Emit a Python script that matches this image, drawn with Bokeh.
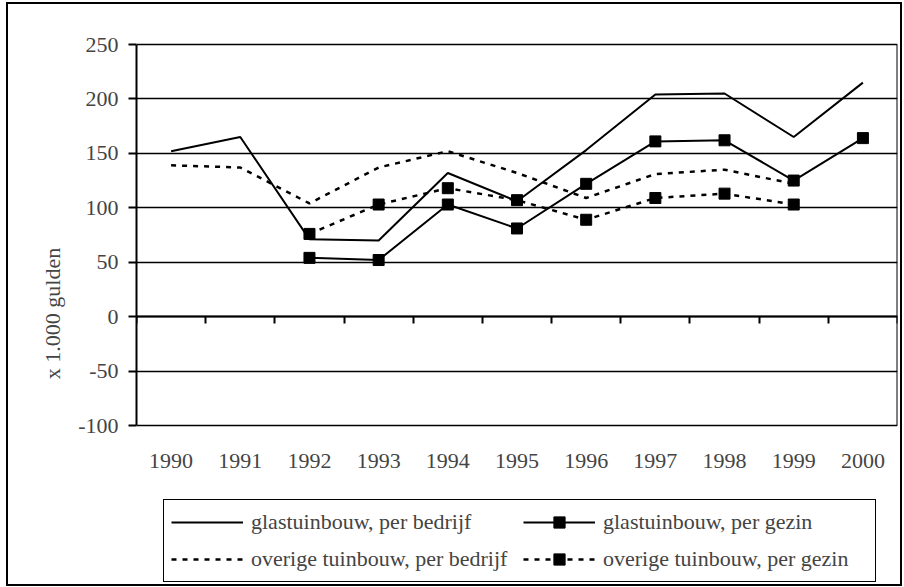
from bokeh.plotting import figure
from bokeh.layouts import column
from bokeh.models import (Range1d, LinearAxis, FixedTicker, Legend, LegendItem,
                          Grid, PrintfTickFormatter)
from bokeh.embed import file_html
from bokeh.resources import INLINE

nan = float("nan")

years = [1990, 1991, 1992, 1993, 1994, 1995, 1996, 1997, 1998, 1999, 2000]
glas_bedrijf = [152, 165, 71, 70, 132, 106, 153, 204, 205, 165, 215]
glas_gezin = [nan, nan, 54, 52, 103, 81, 122, 161, 162, 125, 164]
overig_bedrijf = [139, 137, 104, 137, 152, 132, 109, 131, 135, 122, nan]
overig_gezin = [nan, nan, 76, 103, 118, 107, 89, 109, 113, 103, nan]
y_ticks = [-100, -50, 0, 50, 100, 150, 200, 250]
labels = ["glastuinbouw, per bedrijf", "glastuinbouw, per gezin",
          "overige tuinbouw, per bedrijf", "overige tuinbouw, per gezin"]
y_label = "x 1.000 gulden"

FONT = "Liberation Serif"
FS = "22px"

# layout geometry (pixels)
PLOT_H = 381                 # height of the value area (-100..250)
PX = PLOT_H / (y_ticks[-1] - y_ticks[0])
TOP_PAD = 2                  # frame extends a little above 250
BELOW = 159                  # frame extends below -100 to hold labels and legend
FRAME_H = PLOT_H + TOP_PAD + BELOW
y_end = y_ticks[-1] + TOP_PAD / PX
y_start = y_ticks[0] - BELOW / PX
x_start, x_end = years[0] - 0.5, years[-1] + 0.5

p = figure(frame_width=761, frame_height=FRAME_H,
           min_border_left=128, min_border_right=3,
           min_border_top=38, min_border_bottom=0,
           x_range=Range1d(x_start, x_end),
           y_range=Range1d(y_start, y_end),
           x_axis_type=None, y_axis_type=None,
           output_backend="svg", toolbar_location=None)
p.outline_line_color = None
p.background_fill_color = "white"
p.border_fill_color = "white"

bounds = (y_ticks[0], y_ticks[-1])

# y axis
yaxis = LinearAxis(ticker=FixedTicker(ticks=y_ticks), bounds=bounds,
                   formatter=PrintfTickFormatter(format="%d"),
                   major_tick_out=8, major_tick_in=0, major_tick_line_width=2,
                   minor_tick_line_color=None, axis_line_width=2,
                   major_label_text_font=FONT, major_label_text_font_size=FS,
                   major_label_standoff=10,
                   axis_label=y_label, axis_label_text_font=FONT,
                   axis_label_text_font_size=FS, axis_label_text_font_style="normal",
                   axis_label_standoff=10)
p.add_layout(yaxis, "left")

# right edge of the plot area
raxis = LinearAxis(fixed_location=x_end, bounds=bounds, ticker=FixedTicker(ticks=[]),
                   major_tick_line_color=None, minor_tick_line_color=None,
                   axis_line_width=2, major_label_text_alpha=0)
p.add_layout(raxis, "right")

p.add_layout(Grid(dimension=1, ticker=FixedTicker(ticks=y_ticks), bounds=bounds,
                  grid_line_color="black", grid_line_width=1.5))

# category boundary ticks on the zero line
boundaries = [y - 0.5 for y in years] + [x_end]
zaxis = LinearAxis(fixed_location=0, ticker=FixedTicker(ticks=boundaries),
                   major_tick_out=0, major_tick_in=7, major_tick_line_width=2,
                   minor_tick_line_color=None, axis_line_width=2,
                   major_label_text_alpha=0)
p.add_layout(zaxis, "above")

# x axis with category labels under the -100 line
xaxis = LinearAxis(fixed_location=y_ticks[0], ticker=FixedTicker(ticks=years),
                   formatter=PrintfTickFormatter(format="%d"),
                   major_tick_line_color=None, major_tick_out=0, major_tick_in=0,
                   minor_tick_line_color=None, axis_line_color=None,
                   major_label_text_font=FONT, major_label_text_font_size=FS,
                   major_label_standoff=28)
p.add_layout(xaxis, "below")

r1 = p.line(years, glas_bedrijf, line_color="black", line_width=2)
r2l = p.line(years, glas_gezin, line_color="black", line_width=2)
r2s = p.scatter(years, glas_gezin, marker="square", size=11, color="black")
r3 = p.line(years, overig_bedrijf, line_color="black", line_width=2.5, line_dash="5 6")
r4l = p.line(years, overig_gezin, line_color="black", line_width=2.5, line_dash="5 6")
r4s = p.scatter(years, overig_gezin, marker="square", size=11, color="black")

# items fill the legend column by column
legend = Legend(items=[LegendItem(label=labels[0], renderers=[r1]),
                       LegendItem(label=labels[2], renderers=[r3]),
                       LegendItem(label=labels[1], renderers=[r2l, r2s]),
                       LegendItem(label=labels[3], renderers=[r4l, r4s])],
                ncols=2, location=(27, 2),
                glyph_width=72, glyph_height=28, label_height=30,
                label_standoff=8,
                label_width=265, label_text_font=FONT, label_text_font_size=FS,
                border_line_color="black", border_line_width=1.5,
                border_line_alpha=1,
                padding=7, spacing=7, margin=0,
                background_fill_color="white", background_fill_alpha=1)
p.add_layout(legend, "center")

layout = column(p, styles={"border": "2px solid black",
                           "margin": "2px 0px 0px 6px"})

open("out.html", "w").write(file_html(layout, INLINE))
